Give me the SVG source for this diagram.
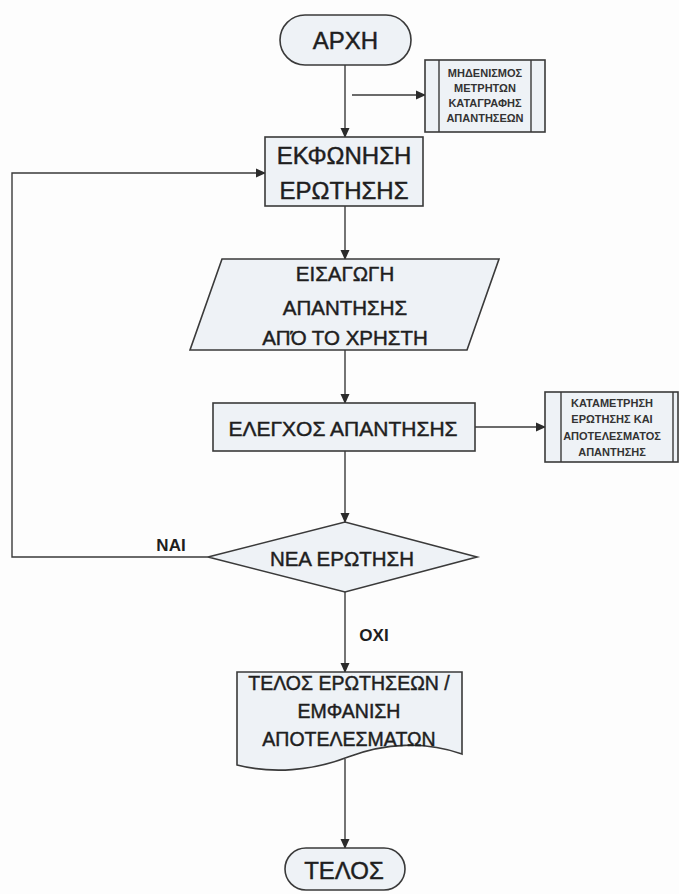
<svg xmlns="http://www.w3.org/2000/svg" width="679" height="894" viewBox="0 0 679 894">
<defs>
<marker id="arr" markerWidth="10" markerHeight="10" refX="9" refY="5" orient="auto" markerUnits="userSpaceOnUse">
<path d="M0,0.5 L10,5 L0,9.5 Z" fill="#2b2b2b"/>
</marker>
</defs>
<style>
.shape{fill:#eef2f6;stroke:#3a3a3a;stroke-width:1.6}
.line{fill:none;stroke:#3a3a3a;stroke-width:1.4}
.t{font-family:"Liberation Sans",Arial,sans-serif;fill:#1e1e1e;stroke:#1e1e1e;stroke-width:0.45;text-anchor:middle;dominant-baseline:central}
.big{font-size:24px}
.mid{font-size:20.5px}
.sm{font-size:11px;font-weight:bold;fill:#333;stroke:none}
.lbl{font-size:17px;font-weight:bold;stroke:none}
</style>
<rect width="679" height="894" fill="#fdfdfd"/>
<g id="connectors">
<line class="line" x1="345" y1="65" x2="345" y2="137" marker-end="url(#arr)"/>
<line class="line" x1="352" y1="95" x2="425" y2="95" marker-end="url(#arr)"/>
<line class="line" x1="345" y1="206" x2="345" y2="259" marker-end="url(#arr)"/>
<line class="line" x1="345" y1="350" x2="345" y2="403" marker-end="url(#arr)"/>
<line class="line" x1="475" y1="427" x2="545" y2="427" marker-end="url(#arr)"/>
<line class="line" x1="345" y1="451" x2="345" y2="522" marker-end="url(#arr)"/>
<line class="line" x1="345" y1="592" x2="345" y2="672" marker-end="url(#arr)"/>
<polyline class="line" points="208,557 12,557 12,173 265,173" marker-end="url(#arr)"/>
<line class="line" x1="345" y1="759" x2="345" y2="848" marker-end="url(#arr)"/>
<text class="t lbl" x="171" y="545">ΝΑΙ</text>
<text class="t lbl" x="374" y="635">ΟΧΙ</text>
</g>
<g id="start">
<rect class="shape" x="280" y="15" width="131" height="50" rx="25"/>
<text class="t big" x="345.5" y="40">ΑΡΧΗ</text>
</g>
<g id="reset">
<rect class="shape" x="425" y="60" width="120" height="72"/>
<line class="line" x1="439" y1="60" x2="439" y2="132"/>
<line class="line" x1="531" y1="60" x2="531" y2="132"/>
<text class="t sm" x="485" y="73">ΜΗΔΕΝΙΣΜΟΣ</text>
<text class="t sm" x="485" y="88">ΜΕΤΡΗΤΩΝ</text>
<text class="t sm" x="485" y="103">ΚΑΤΑΓΡΑΦΗΣ</text>
<text class="t sm" x="485" y="118">ΑΠΑΝΤΗΣΕΩΝ</text>
</g>
<g id="question">
<rect class="shape" x="265" y="137" width="158" height="69"/>
<text class="t big" x="344" y="155">ΕΚΦΩΝΗΣΗ</text>
<text class="t big" x="344" y="190">ΕΡΩΤΗΣΗΣ</text>
</g>
<g id="input">
<polygon class="shape" points="222,259 499,259 467,350 190,350"/>
<text class="t mid" x="345" y="273">ΕΙΣΑΓΩΓΗ</text>
<text class="t mid" x="345" y="307">ΑΠΑΝΤΗΣΗΣ</text>
<text class="t mid" x="345" y="337">ΑΠΌ ΤΟ ΧΡΗΣΤΗ</text>
</g>
<g id="check">
<rect class="shape" x="213" y="403" width="262" height="48"/>
<text class="t" style="font-size:21px" x="343" y="428">ΕΛΕΓΧΟΣ ΑΠΑΝΤΗΣΗΣ</text>
</g>
<g id="count">
<rect class="shape" x="545" y="392" width="133" height="70"/>
<line class="line" x1="561" y1="392" x2="561" y2="462"/>
<line class="line" x1="673" y1="392" x2="673" y2="462"/>
<text class="t sm" x="612" y="403">ΚΑΤΑΜΕΤΡΗΣΗ</text>
<text class="t sm" x="612" y="419">ΕΡΩΤΗΣΗΣ ΚΑΙ</text>
<text class="t sm" x="612" y="436">ΑΠΟΤΕΛΕΣΜΑΤΟΣ</text>
<text class="t sm" x="612" y="452">ΑΠΑΝΤΗΣΗΣ</text>
</g>
<g id="decision">
<polygon class="shape" points="208,557 345,522 477,557 345,592"/>
<text class="t mid" x="342" y="558">ΝΕΑ ΕΡΩΤΗΣΗ</text>
</g>
<g id="results">
<path class="shape" d="M237,672 H462 V754 C425,741 385,743 348,757 C312,771 272,774 237,765 Z"/>
<text class="t" style="font-size:19.5px" x="349" y="683">ΤΕΛΟΣ ΕΡΩΤΗΣΕΩΝ /</text>
<text class="t" style="font-size:19.5px" x="349" y="711">ΕΜΦΑΝΙΣΗ</text>
<text class="t" style="font-size:19.5px" x="349" y="739">ΑΠΟΤΕΛΕΣΜΑΤΩΝ</text>
</g>
<g id="end">
<rect class="shape" x="285" y="848" width="120" height="42" rx="21"/>
<text class="t big" x="344" y="870">ΤΕΛΟΣ</text>
</g>
</svg>
